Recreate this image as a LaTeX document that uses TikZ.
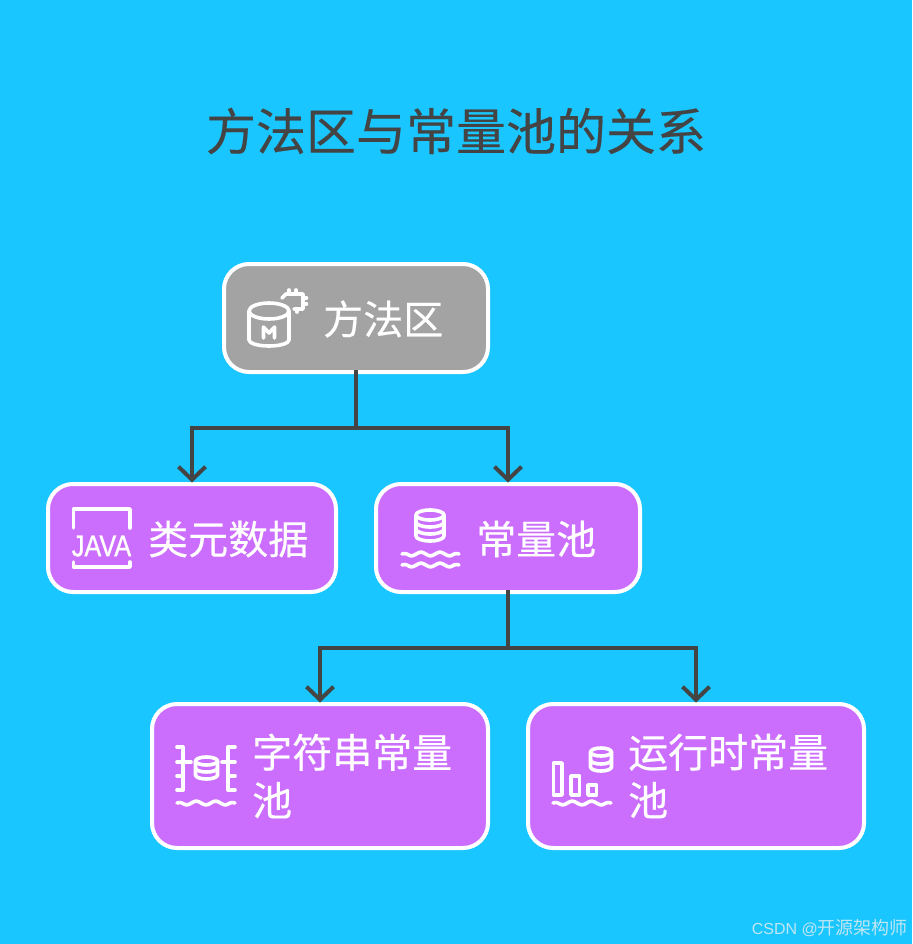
\documentclass[tikz,border=0pt]{standalone}
\usepackage{fontspec}
\setmainfont[FakeBold=0.35]{Noto Sans CJK SC}
\newfontfamily\latinfont{Liberation Sans}
\newfontfamily\javafont[FakeBold=1.2]{Liberation Sans}
\newfontfamily\markfont{Noto Sans CJK SC}
\usetikzlibrary{arrows.meta}
\definecolor{bgblue}{HTML}{19C6FF}
\definecolor{boxgrey}{HTML}{A3A3A3}
\definecolor{boxpurple}{HTML}{CC6EFD}
\definecolor{inkdark}{HTML}{444444}
\definecolor{marktext}{HTML}{BFE6F4}
\tikzset{
  x=1pt,y=-1pt,
  boxbase/.style={draw=white,line width=4pt,rounded corners=25pt,outer sep=0pt,inner sep=0pt},
  greybox/.style={boxbase,fill=boxgrey},
  purplebox/.style={boxbase,fill=boxpurple},
  boxlabel/.style={text=white,font=\fontsize{40}{48}\selectfont,inner sep=0pt,anchor=west,align=left},
  conn/.style={draw=inkdark,line width=4pt,shorten >=1.5pt,-{Straight Barb[length=13pt,width=27pt,line width=4pt]}},
  connroot/.style={draw=inkdark,line width=4pt,shorten <=-2pt,shorten >=-2pt},
  iconline/.style={draw=white,line width=3.6pt,line cap=round,line join=round},
}
\newcommand{\wavepath}[3]{\draw[iconline] plot[domain=0:1,samples=70,smooth] ({#1+(#2-#1)*\x},{#3+1.8*sin(1080*\x-90)*min(1,2.5*sin(180*\x))});}
\begin{document}
\begin{tikzpicture}
\useasboundingbox[fill=bgblue] (0,0) rectangle (912,944);
\node[text=inkdark,font=\fontsize{50}{60}\selectfont,inner sep=0pt] (title) at (456,131) {方法区与常量池的关系};

\node[greybox,minimum width=264pt,minimum height=108pt] (method) at (356,318) {};
\node[purplebox,minimum width=288pt,minimum height=108pt] (javameta) at (192,538) {};
\node[purplebox,minimum width=264pt,minimum height=108pt] (pool) at (508,538) {};
\node[purplebox,minimum width=336pt,minimum height=144pt] (strpool) at (320,776) {};
\node[purplebox,minimum width=336pt,minimum height=144pt] (runpool) at (696,776) {};

\node[boxlabel] (methodtext) at (323,319) {方法区};
\node[boxlabel] (javatext) at (148,539) {类元数据};
\node[boxlabel] (pooltext) at (476,539) {常量池};
\node[boxlabel] (strtext) at (252,776) {字符串常量\\池};
\node[boxlabel] (runtext) at (628,776) {运行时常量\\池};

\coordinate (busa) at (356,428);
\coordinate (busb) at (508,648);
\draw[connroot] (method.south) -- (busa);
\draw[conn] (busa) -| (javameta.north);
\draw[conn] (busa) -| (pool.north);
\draw[connroot] (pool.south) -- (busb);
\draw[conn] (busb) -| (strpool.north);
\draw[conn] (busb) -| (runpool.north);

% method area icon
\draw[iconline] (269,311) ellipse [x radius=20pt,y radius=8pt];
\draw[iconline] (249,311) -- (249,340) arc[start angle=180,end angle=360,x radius=20pt,y radius=6pt] -- (289,311);
\draw[iconline] (263.5,338) -- (263.5,327) -- (269,333) -- (274.5,327) -- (274.5,338);
\draw[iconline] (282,298) -- (286,294) -- (303,294) -- (303,309) -- (294,309);
\draw[iconline] (289,290) -- (289,294) (296,290) -- (296,294) (303,298) -- (306.5,298) (303,304) -- (306.5,304) (297,309) -- (297,312);

% java icon
\draw[iconline] (73.5,528) -- (73.5,509) -- (130,509) -- (130,528);
\draw[iconline] (73.5,562) -- (73.5,567) -- (130,567) -- (130,562);
\node[text=white,inner sep=0pt,xscale=.84,font=\javafont\fontsize{30}{30}\selectfont] (javaword) at (101.5,546) {JAVA};

% pool icon
\draw[iconline] (430,515) ellipse [x radius=14pt,y radius=5pt];
\draw[iconline] (416,515) -- (416,536) arc[start angle=180,end angle=360,x radius=14pt,y radius=5pt] -- (444,515);
\draw[iconline] (416,522) arc[start angle=180,end angle=360,x radius=14pt,y radius=5pt];
\draw[iconline] (416,529) arc[start angle=180,end angle=360,x radius=14pt,y radius=5pt];
\wavepath{402}{459}{554}
\wavepath{402}{459}{565}

% string pool icon
\draw[iconline] (183,747) -- (183,790) (177,747) -- (183,747) (177,762) -- (191,762) (177,776) -- (183,776) (177,790) -- (183,790);
\draw[iconline] (228,747) -- (228,790) (228,747) -- (235,747) (222,762) -- (235,762) (228,776) -- (235,776) (228,790) -- (235,790);
\draw[iconline] (206.5,761) ellipse [x radius=11pt,y radius=4pt];
\draw[iconline] (195.5,761) -- (195.5,775) arc[start angle=180,end angle=360,x radius=11pt,y radius=4pt] -- (217.5,761);
\draw[iconline] (195.5,768) arc[start angle=180,end angle=360,x radius=11pt,y radius=4pt];
\wavepath{177}{235}{803}

% runtime pool icon
\draw[iconline] (553.5,763) rectangle (562,795);
\draw[iconline] (571,776) rectangle (579.5,795);
\draw[iconline] (588,785) rectangle (596.5,795);
\draw[iconline] (601,752) ellipse [x radius=10.5pt,y radius=4pt];
\draw[iconline] (590.5,752) -- (590.5,767) arc[start angle=180,end angle=360,x radius=10.5pt,y radius=4pt] -- (611.5,752);
\draw[iconline] (590.5,760) arc[start angle=180,end angle=360,x radius=10.5pt,y radius=4pt];
\wavepath{553}{611}{803}

\node[text=marktext,inner sep=0pt,anchor=east] (mark) at (908,928) {{\latinfont\fontsize{16}{20}\selectfont CSDN @}{\markfont\fontsize{18}{20}\selectfont 开源架构师}};
\end{tikzpicture}
\end{document}
